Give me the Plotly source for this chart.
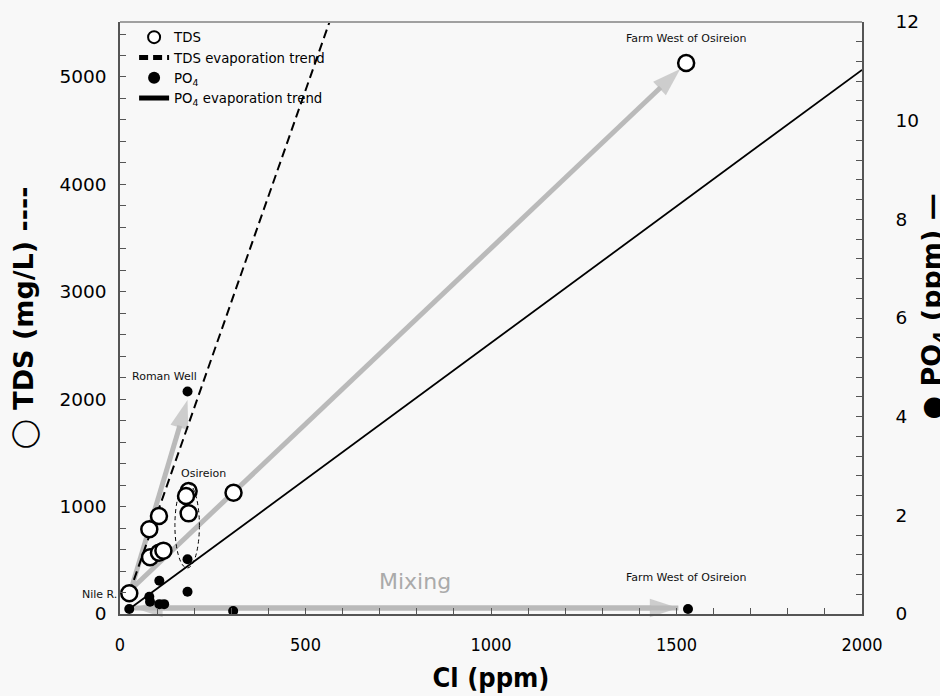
import plotly.graph_objects as go

# ---------------- data ----------------
tds_cl = [25, 79, 105, 81, 105, 117, 185, 178, 185, 306, 1526]
tds_val = [193, 789, 912, 528, 571, 590, 1145, 1099, 937, 1129, 5130]

po4_cl = [25, 79, 81, 106, 119, 106, 182, 182, 305, 182, 1531]
po4_val = [0.10, 0.35, 0.25, 0.20, 0.20, 0.675, 0.45, 1.11, 0.06, 4.51, 0.10]

tds_trend_cl = [25, 600]
tds_trend_val = [195, 5860]

po4_trend_cl = [25, 2000]
po4_trend_val = [0.10, 11.03]

# mixing arrows (tail -> head), in Cl / TDS units
arrow_tail_cl = [30, 30, 38]
arrow_tail_tds = [230, 230, 56]
arrow_head_cl = [182, 1510, 1505]
arrow_head_tds = [1993, 5075, 56]
arrow_double = [False, False, True]

# Osireion group ellipse (Cl range, TDS range)
osireion_cl = [148, 214]
osireion_tds = [428, 1220]

label_text = ["Roman Well", "Osireion", "Farm West of Osireion", "Farm West of Osireion"]
label_cl = [119, 224, 1528, 1528]
label_tds = [2207, 1304, 5363, 340]

nile_label = "Nile R."
nile_tds = 177

mixing_label = "Mixing"
mixing_cl = 795
mixing_tds = 298

x_ticks = [0, 500, 1000, 1500, 2000]
y_ticks = [0, 1000, 2000, 3000, 4000, 5000]
y2_ticks = [0, 2, 4, 6, 8, 10, 12]

BG = "#f8f8f8"
AX = "#555555"
GREY_ARROW = "#bababa"
HEAD = 30

fig = go.Figure()

# grey mixing arrows (drawn first so that data sit on top)
for tx, ty, hx, hy, dbl in zip(arrow_tail_cl, arrow_tail_tds, arrow_head_cl, arrow_head_tds, arrow_double):
    fig.add_trace(go.Scatter(
        x=[tx, hx], y=[ty, hy], mode="lines+markers", yaxis="y",
        line=dict(color=GREY_ARROW, width=5),
        marker=dict(symbol=["circle", "arrow"], size=[0, HEAD], color=GREY_ARROW,
                    angleref="previous", line=dict(width=0)),
        showlegend=False, hoverinfo="skip", cliponaxis=False))
    if dbl:
        fig.add_trace(go.Scatter(
            x=[hx, tx], y=[hy, ty], mode="lines+markers", yaxis="y",
            line=dict(color=GREY_ARROW, width=5),
            marker=dict(symbol=["circle", "arrow"], size=[0, HEAD], color=GREY_ARROW,
                        angleref="previous", line=dict(width=0)),
            showlegend=False, hoverinfo="skip", cliponaxis=False))

fig.add_trace(go.Scatter(
    x=tds_trend_cl, y=tds_trend_val, mode="lines", name="TDS evaporation trend",
    line=dict(color="black", width=2, dash="9px,5px"), yaxis="y", legendrank=2))

fig.add_trace(go.Scatter(
    x=po4_trend_cl, y=po4_trend_val, mode="lines", name="PO<sub>4</sub> evaporation trend",
    line=dict(color="black", width=1.8), yaxis="y2", legendrank=4))

fig.add_trace(go.Scatter(
    x=tds_cl, y=tds_val, mode="markers", name="TDS",
    marker=dict(symbol="circle", size=16, color="white",
                line=dict(color="black", width=2.5)),
    yaxis="y", cliponaxis=False, legendrank=1))

fig.add_trace(go.Scatter(
    x=po4_cl, y=po4_val, mode="markers", name="PO<sub>4</sub>",
    marker=dict(symbol="circle", size=10, color="black"), yaxis="y2",
    cliponaxis=False, legendrank=3))

annotations = []
for t, xx, yy in zip(label_text, label_cl, label_tds):
    annotations.append(dict(
        x=xx, y=yy, xref="x", yref="y", text=t, showarrow=False,
        font=dict(family="DejaVu Sans", size=11, color="#111111"),
        xanchor="center", yanchor="middle"))

annotations.append(dict(
    x=-0.0015, y=nile_tds, xref="paper", yref="y", text=nile_label, showarrow=False,
    font=dict(family="DejaVu Sans", size=11, color="#111111"),
    xanchor="right", yanchor="middle"))

annotations.append(dict(
    x=mixing_cl, y=mixing_tds, xref="x", yref="y", text=mixing_label, showarrow=False,
    font=dict(family="DejaVu Sans", size=22, color="#aaaaaa"),
    xanchor="center", yanchor="middle"))

# right axis title
annotations.append(dict(
    x=1.096, y=0.52, xref="paper", yref="paper",
    text="<b>● PO<sub>4</sub> (ppm) —</b>", showarrow=False, textangle=-90,
    font=dict(family="DejaVu Sans", size=27, color="black"),
    xanchor="center", yanchor="middle"))

shapes = [
    dict(type="circle", xref="x", yref="y",
         x0=osireion_cl[0], x1=osireion_cl[1], y0=osireion_tds[0], y1=osireion_tds[1],
         line=dict(color="black", width=1, dash="4px,3px")),
    dict(type="line", xref="paper", yref="paper", x0=0, x1=1, y0=1, y1=1,
         line=dict(color="#a0a0a0", width=2)),
]

fig.update_layout(
    width=940, height=696,
    margin=dict(l=120, r=78, t=22, b=82, autoexpand=False),
    paper_bgcolor=BG, plot_bgcolor=BG,
    font=dict(family="DejaVu Sans", color="black"),
    showlegend=True,
    legend=dict(x=0.019, y=1.0, xanchor="left", yanchor="top",
                bgcolor="rgba(0,0,0,0)", font=dict(family="DejaVu Sans", size=13.3),
                itemsizing="constant", tracegroupgap=0, traceorder="normal"),
    xaxis=dict(
        range=[0, 2000], tickvals=x_ticks, ticks="inside", ticklen=6, tickcolor=AX,
        minor=dict(dtick=100, ticks="inside", ticklen=6, tickcolor=AX),
        showline=True, linecolor=AX, linewidth=1.5, showgrid=False, zeroline=False,
        tickfont=dict(family="DejaVu Sans Condensed", size=18),
        ticklabelstandoff=14,
        title=dict(text="<b>Cl (ppm)</b>", standoff=14,
                   font=dict(family="DejaVu Sans Condensed", size=27))),
    yaxis=dict(
        range=[0, 5512], tickvals=y_ticks, ticks="inside", ticklen=6, tickcolor=AX,
        minor=dict(dtick=200, ticks="inside", ticklen=6, tickcolor=AX),
        showline=True, linecolor=AX, linewidth=1.5, showgrid=False, zeroline=False,
        tickfont=dict(family="DejaVu Sans", size=18.5),
        ticklabelstandoff=8,
        title=dict(text="<b>◯ TDS (mg/L) ----</b>", standoff=18,
                   font=dict(family="DejaVu Sans", size=27))),
    yaxis2=dict(
        range=[0, 12], tickvals=y2_ticks, ticks="inside", ticklen=6, tickcolor=AX,
        minor=dict(dtick=0.4, ticks="inside", ticklen=6, tickcolor=AX),
        overlaying="y", side="right",
        showline=True, linecolor=AX, linewidth=1.5, showgrid=False, zeroline=False,
        tickfont=dict(family="DejaVu Sans", size=18.5),
        ticklabelstandoff=28),
    annotations=annotations,
    shapes=shapes,
)

fig.write_html("out.html")
